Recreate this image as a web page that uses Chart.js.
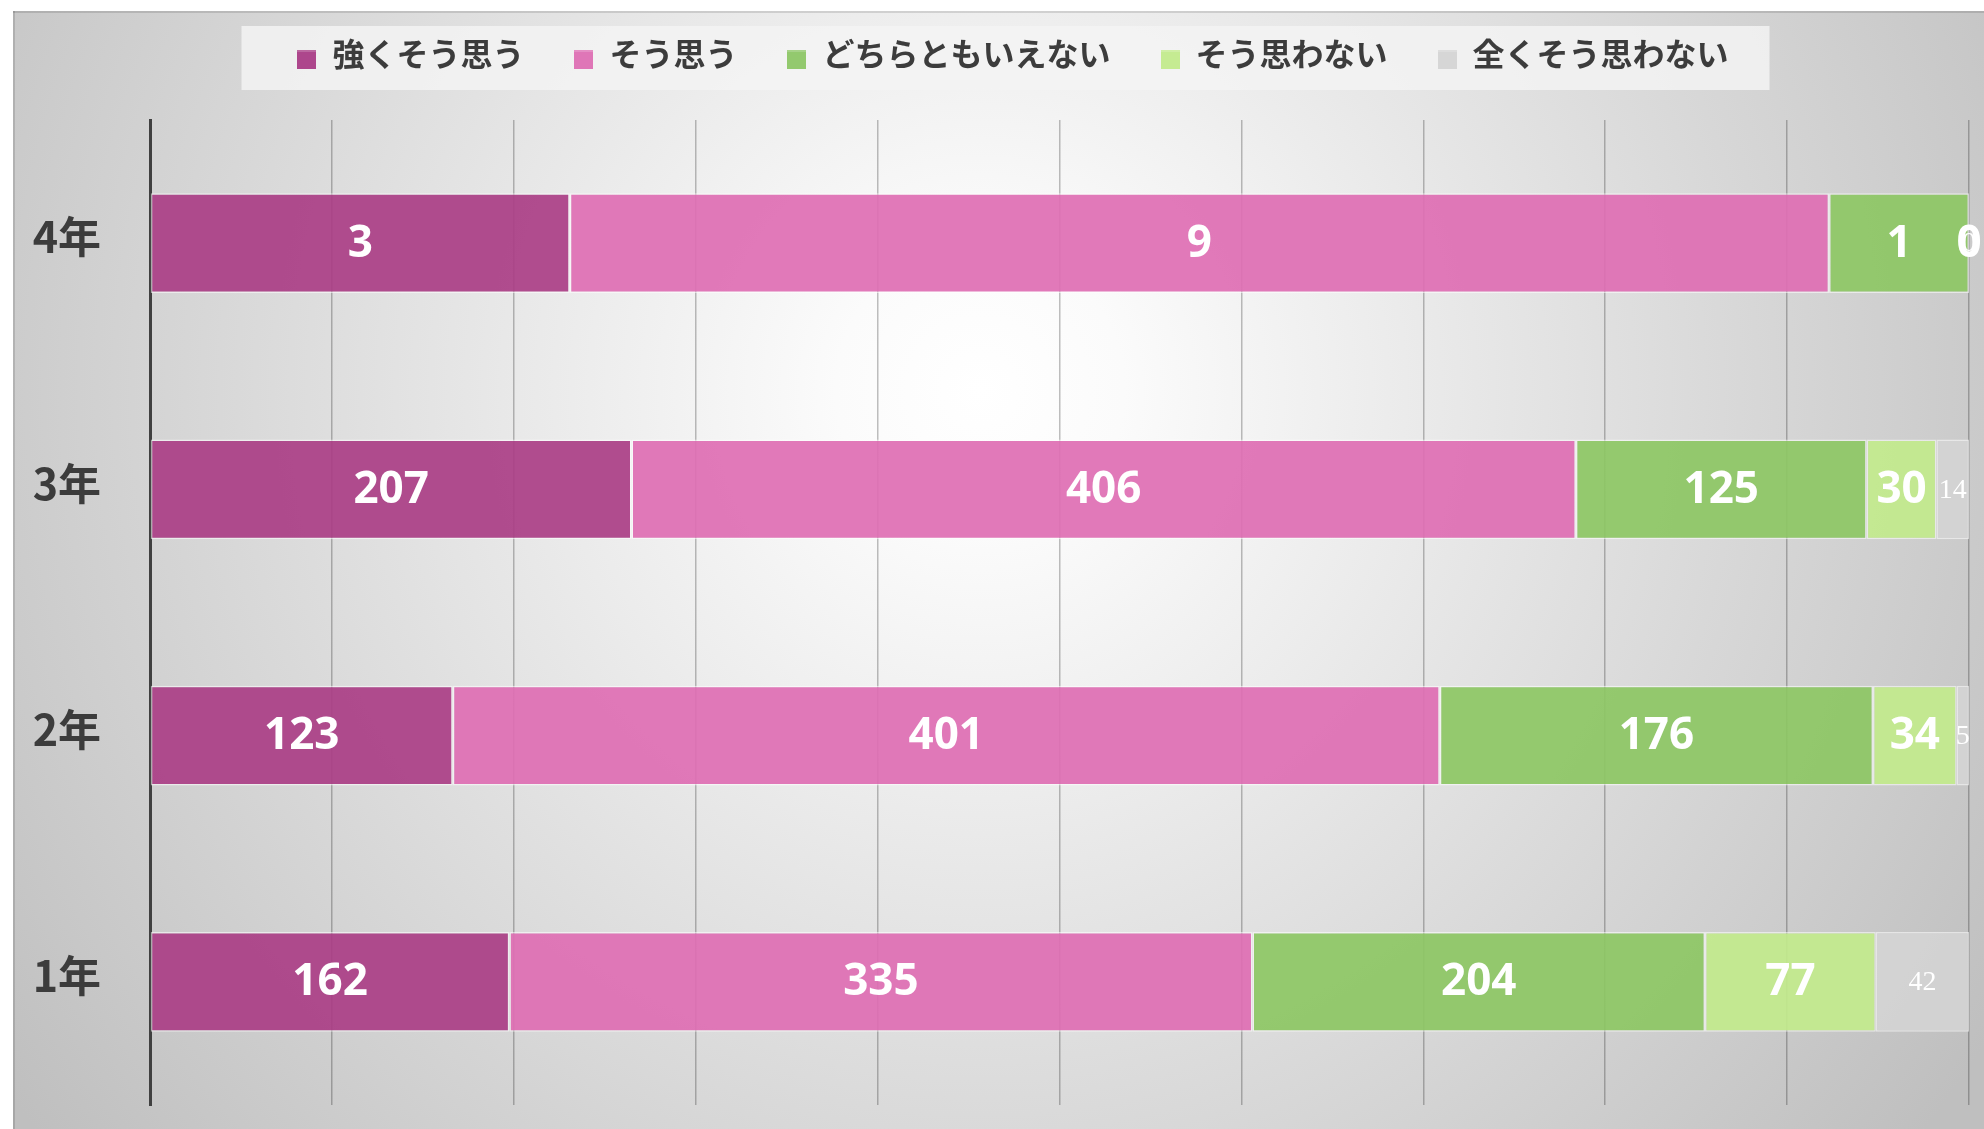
<!DOCTYPE html>
<html>
<head>
<meta charset="utf-8">
<script src="https://cdn.jsdelivr.net/npm/chart.js@4/dist/chart.umd.min.js"></script>
<style>
  html, body { margin: 0; padding: 0; background: #ffffff; }
  #wrap { width: 1984px; height: 1129px; position: relative; }
  canvas { display: block; }
</style>
</head>
<body>
<div id="wrap"><canvas id="c" width="1984" height="1129"></canvas></div>
<script>
// ---- data ----
const categories = ['4年', '3年', '2年', '1年'];
const seriesNames = ['強くそう思う', 'そう思う', 'どちらともいえない', 'そう思わない', '全くそう思わない'];
const stronglyAgree = [3, 207, 123, 162];
const agree = [9, 406, 401, 335];
const neutral = [1, 125, 176, 204];
const disagree = [0, 30, 34, 77];
const stronglyDisagree = [0, 14, 5, 42];
const xTicks = [0, 10, 20, 30, 40, 50, 60, 70, 80, 90, 100];

const seriesValues = [stronglyAgree, agree, neutral, disagree, stronglyDisagree];
const seriesColors = ['rgba(170,62,134,0.92)', 'rgba(222,110,179,0.92)', 'rgba(141,199,100,0.92)', 'rgba(194,234,140,0.92)', 'rgba(212,212,212,0.9)'];
const legendColors = ['#ad468c', '#df76b7', '#93c96e', '#c5eb92', '#d6d6d6'];
const labelFonts = [
  'bold 44px "Open Sans", "Noto Sans", sans-serif',
  'bold 44px "Open Sans", "Noto Sans", sans-serif',
  'bold 44px "Open Sans", "Noto Sans", sans-serif',
  'bold 44px "Open Sans", "Noto Sans", sans-serif',
  '28px "Liberation Serif", "DejaVu Serif", serif'
];

const totals = categories.map((_, i) => seriesValues.reduce((s, arr) => s + arr[i], 0));

// legend marker: square sitting low relative to the text line
function makeMarker(color) {
  const c = document.createElement('canvas');
  c.width = 19; c.height = 30;
  const x = c.getContext('2d');
  x.fillStyle = color;
  x.fillRect(0, 11, 19, 19);
  x.fillStyle = 'rgba(255,255,255,0.18)';
  x.fillRect(0, 11, 19, 2);
  return c;
}

const datasets = seriesNames.map((name, k) => ({
  label: name,
  data: seriesValues[k].map((v, i) => v / totals[i] * 100),
  raw: seriesValues[k],
  backgroundColor: seriesColors[k],
  borderColor: 'rgba(255,255,255,0.55)',
  borderWidth: 1.5,
  borderSkipped: false,
  barPercentage: 0.406,
  categoryPercentage: 1.0,
  legendColor: legendColors[k],
  labelFont: labelFonts[k]
}));

const panelPlugin = {
  id: 'panel',
  beforeDraw(chart) {
    const ctx = chart.ctx;
    ctx.save();
    const x0 = 13, y0 = 11, x1 = 1984, y1 = 1129;
    const g = ctx.createRadialGradient(980, 390, 0, 980, 390, 1200);
    g.addColorStop(0, '#ffffff');
    g.addColorStop(0.12, '#fbfbfb');
    g.addColorStop(1, '#bfbfbf');
    ctx.fillStyle = g;
    ctx.fillRect(x0, y0, x1 - x0, y1 - y0);
    ctx.fillStyle = 'rgba(0,0,0,0.12)';
    ctx.fillRect(x0, y0, x1 - x0, 2);
    ctx.fillRect(x0, y0, 2, y1 - y0);
    // legend background
    const lg = chart.legend;
    if (lg && lg.legendHitBoxes && lg.legendHitBoxes.length) {
      const hb = lg.legendHitBoxes;
      const first = hb[0], last = hb[hb.length - 1];
      const left = first.left - 56, right = last.left + last.width + 41;
      const cy = first.top + 16;
      ctx.fillStyle = 'rgba(243,243,243,0.85)';
      ctx.fillRect(left, cy - 28, right - left, 64);
    }
    ctx.restore();
  }
};

const valueLabelPlugin = {
  id: 'valueLabels',
  afterDatasetsDraw(chart) {
    const ctx = chart.ctx;
    ctx.save();
    ctx.fillStyle = '#ffffff';
    ctx.textAlign = 'center';
    ctx.textBaseline = 'middle';
    chart.data.datasets.forEach((ds, k) => {
      const meta = chart.getDatasetMeta(k);
      ctx.font = ds.labelFont;
      meta.data.forEach((bar, i) => {
        const cx = (bar.x + bar.base) / 2;
        ctx.fillText(String(ds.raw[i]), cx, bar.y + 1);
      });
    });
    ctx.restore();
  }
};

new Chart(document.getElementById('c'), {
  type: 'bar',
  data: { labels: categories, datasets },
  options: {
    indexAxis: 'y',
    responsive: false,
    devicePixelRatio: 1,
    animation: false,
    layout: { padding: { top: -12, right: -42, bottom: 24, left: 0 } },
    plugins: {
      tooltip: { enabled: false },
      legend: {
        position: 'top',
        align: 'center',
        labels: {
          usePointStyle: true,
          boxWidth: 19,
          boxHeight: 19,
          padding: 50,
          color: '#3c3c3c',
          font: { family: '"Noto Sans CJK JP", sans-serif', size: 32, weight: 'bold' },
          generateLabels(chart) {
            return chart.data.datasets.map((ds, i) => ({
              text: ds.label,
              fillStyle: ds.legendColor,
              strokeStyle: ds.legendColor,
              pointStyle: makeMarker(ds.legendColor),
              lineWidth: 0,
              fontColor: '#3c3c3c',
              datasetIndex: i
            }));
          }
        }
      }
    },
    scales: {
      x: {
        position: 'top',
        stacked: true,
        min: 0,
        max: 100,
        afterBuildTicks(scale) { scale.ticks = xTicks.map(v => ({ value: v })); },
        afterFit(scale) { scale.height = 40; scale.paddingLeft = 0; scale.paddingRight = 0; },
        ticks: { display: false },
        border: { display: false },
        grid: { color: 'rgba(0,0,0,0.25)', lineWidth: 1.5, drawTicks: false }
      },
      y: {
        stacked: true,
        afterFit(scale) { scale.width = 150; scale.paddingTop = 0; scale.paddingBottom = 0; },
        ticks: {
          color: '#3c3c3c',
          padding: 49,
          labelOffset: -6,
          font: { family: '"Noto Sans CJK JP", sans-serif', size: 43, weight: 'bold' }
        },
        border: { display: true, color: '#404040', width: 3 },
        grid: { display: false, drawTicks: false }
      },
      yRight: {
        type: 'linear',
        axis: 'y',
        position: 'right',
        afterFit(scale) { scale.width = 57; scale.paddingTop = 0; scale.paddingBottom = 0; },
        ticks: { display: false },
        border: { display: false },
        grid: { display: false, drawTicks: false }
      }
    }
  },
  plugins: [panelPlugin, valueLabelPlugin]
});
</script>
</body>
</html>
